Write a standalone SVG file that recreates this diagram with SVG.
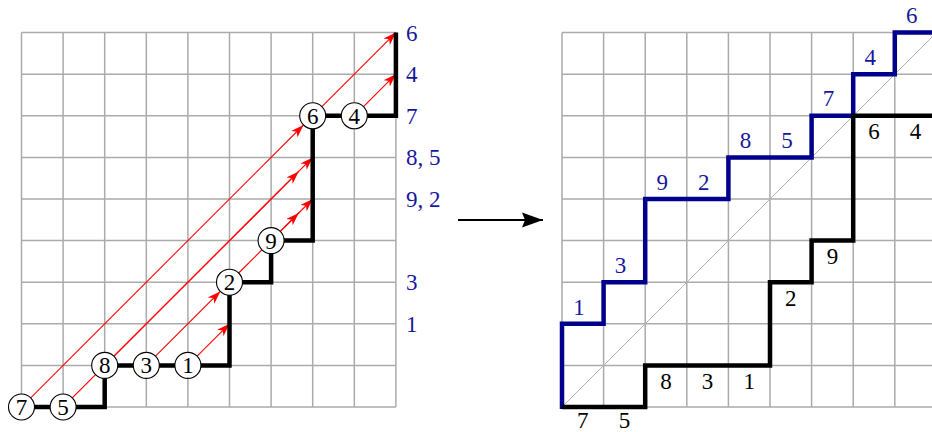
<svg xmlns="http://www.w3.org/2000/svg" width="932" height="432" viewBox="0 0 932 432" font-family="'Liberation Serif', 'DejaVu Serif', serif">
<defs>
<style>
.grid{fill:none;stroke:#ababab;stroke-width:1.5}
.diag{fill:none;stroke:#b4b4b4;stroke-width:1}
.red{fill:none;stroke:#ff0000;stroke-width:1.1}
.bk{fill:none;stroke:#000;stroke-width:4.5;stroke-linejoin:miter;stroke-linecap:butt}
.bl{fill:none;stroke:#00008c;stroke-width:4.5;stroke-linejoin:miter}
.nd circle{fill:#fff;stroke:#000;stroke-width:1.1}
text{font-family:'Liberation Serif','DejaVu Serif',serif;font-size:23px}
.nd text{text-anchor:middle;fill:#000}
.lb{fill:#17179c}
.tb{fill:#17179c;text-anchor:middle}
.tk{fill:#000;text-anchor:middle}
</style>
<marker id="ah" markerUnits="userSpaceOnUse" markerWidth="14" markerHeight="10" refX="13" refY="5" orient="auto" viewBox="0 0 14 10">
<path d="M0,0.5 L13,5 L0,9.5 L3.5,5 z" fill="#ff0000"/>
</marker>
<marker id="bh" markerUnits="userSpaceOnUse" markerWidth="22" markerHeight="16" refX="21" refY="8" orient="auto" viewBox="0 0 22 16">
<path d="M0,0.5 L21,8 L0,15.5 L3,8 z" fill="#000"/>
</marker>
</defs>

<g id="left-grid">
<path class="grid" d="M21.5,32.6V407M63.1,32.6V407M104.7,32.6V407M146.3,32.6V407M187.9,32.6V407M229.5,32.6V407M271.1,32.6V407M312.7,32.6V407M354.3,32.6V407M395.9,32.6V407M21.5,32.6H395.9M21.5,74.2H395.9M21.5,115.8H395.9M21.5,157.4H395.9M21.5,199H395.9M21.5,240.6H395.9M21.5,282.2H395.9M21.5,323.8H395.9M21.5,365.4H395.9M21.5,407H395.9"/>
</g>

<g id="connectors">
<path class="red" marker-end="url(#ah)" d="M30.7,397.8L303.5,125"/>
<path class="red" marker-end="url(#ah)" d="M72.3,397.8L312.7,157.4"/>
<path class="red" marker-end="url(#ah)" d="M113.9,356.2L298.7,171.4"/>
<path class="red" marker-end="url(#ah)" d="M155.5,356.2L220.3,291.4"/>
<path class="red" marker-end="url(#ah)" d="M197.1,356.2L229.5,323.8"/>
<path class="red" marker-end="url(#ah)" d="M238.7,273L312.7,199"/>
<path class="red" marker-end="url(#ah)" d="M280.3,231.4L298.7,213"/>
<path class="red" marker-end="url(#ah)" d="M321.9,106.6L395.9,32.6"/>
<path class="red" marker-end="url(#ah)" d="M363.5,106.6L395.9,74.2"/>
<path class="bk" d="M21.5,407H104.7V365.4H229.5V282.2H271.1V240.6H312.7V115.8H395.9V32.6"/>
<path id="map-arrow" fill="none" stroke="#000" stroke-width="2" marker-end="url(#bh)" d="M458,220H543"/>
</g>

<g id="node-7" class="nd"><circle cx="21.5" cy="407" r="13"/><text x="21.5" y="415">7</text></g>
<g id="node-5" class="nd"><circle cx="63.1" cy="407" r="13"/><text x="63.1" y="415">5</text></g>
<g id="node-8" class="nd"><circle cx="104.7" cy="365.4" r="13"/><text x="104.7" y="373.4">8</text></g>
<g id="node-3" class="nd"><circle cx="146.3" cy="365.4" r="13"/><text x="146.3" y="373.4">3</text></g>
<g id="node-1" class="nd"><circle cx="187.9" cy="365.4" r="13"/><text x="187.9" y="373.4">1</text></g>
<g id="node-2" class="nd"><circle cx="229.5" cy="282.2" r="13"/><text x="229.5" y="290.2">2</text></g>
<g id="node-9" class="nd"><circle cx="271.1" cy="240.6" r="13"/><text x="271.1" y="248.6">9</text></g>
<g id="node-6" class="nd"><circle cx="312.7" cy="115.8" r="13"/><text x="312.7" y="123.8">6</text></g>
<g id="node-4" class="nd"><circle cx="354.3" cy="115.8" r="13"/><text x="354.3" y="123.8">4</text></g>

<g id="left-labels" class="lb">
<text x="406" y="40.6">6</text>
<text x="406" y="82.2">4</text>
<text x="406" y="123.8">7</text>
<text x="406" y="165.4">8, 5</text>
<text x="406" y="207">9, 2</text>
<text x="406" y="290.2">3</text>
<text x="406" y="331.8">1</text>
</g>

<g id="right-grid">
<path class="grid" d="M562,32.6V407M603.6,32.6V407M645.2,32.6V407M686.8,32.6V407M728.4,32.6V407M770,32.6V407M811.6,32.6V407M853.2,32.6V407M894.8,32.6V407M936.4,32.6V407M562,32.6H940M562,74.2H940M562,115.8H940M562,157.4H940M562,199H940M562,240.6H940M562,282.2H940M562,323.8H940M562,365.4H940M562,407H940"/>
<path class="diag" d="M562,407L936.4,32.6"/>
</g>

<g id="blue-path">
<path class="bl" d="M562,409V323.8H603.6V282.2H645.2V199H728.4V157.4H811.6V115.8H853.2V74.2H894.8V32.6H940"/>
<text class="tb" x="579" y="314.5">1</text>
<text class="tb" x="620.6" y="272.9">3</text>
<text class="tb" x="662.2" y="189.5">9</text>
<text class="tb" x="703.8" y="189.5">2</text>
<text class="tb" x="745.4" y="147.9">8</text>
<text class="tb" x="787" y="147.9">5</text>
<text class="tb" x="828.6" y="106.3">7</text>
<text class="tb" x="870.2" y="64.7">4</text>
<text class="tb" x="911.8" y="23.1">6</text>
</g>

<g id="black-path">
<path class="bk" d="M562,407H645.2V365.4H770V282.2H811.6V240.6H853.2V115.8H940"/>
<text class="tk" x="582.8" y="428">7</text>
<text class="tk" x="624.4" y="428">5</text>
<text class="tk" x="666" y="389">8</text>
<text class="tk" x="707.6" y="389">3</text>
<text class="tk" x="749.2" y="389">1</text>
<text class="tk" x="790.8" y="305.8">2</text>
<text class="tk" x="832.4" y="264.2">9</text>
<text class="tk" x="874" y="139.4">6</text>
<text class="tk" x="915.6" y="139.4">4</text>
</g>
</svg>
